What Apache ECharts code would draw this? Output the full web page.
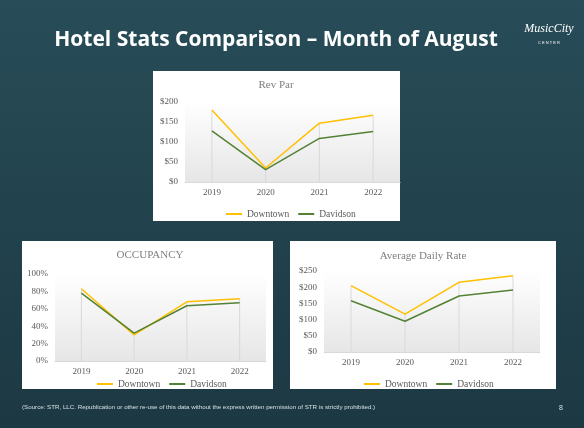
<!DOCTYPE html>
<html>
<head>
<meta charset="utf-8">
<script src="https://cdn.jsdelivr.net/npm/echarts@6/dist/echarts.min.js"></script>
<style>
  html, body { margin: 0; padding: 0; }
  #chart { width: 584px; height: 428px; }
</style>
</head>
<body>
<div id="chart"></div>
<script>
// hotel stats, month of August
const years = ['2019', '2020', '2021', '2022']
const seriesNames = ['Downtown', 'Davidson']

const revParDowntown = [180, 35, 147, 167]
const revParDavidson = [128, 31, 109, 126]

const occDowntown = [83, 30, 68, 71.5]
const occDavidson = [78, 32, 63.5, 67]

const adrDowntown = [205, 117, 215, 235]
const adrDavidson = [158, 95, 173, 191]

const COLOR_DT = '#FFC000'
const COLOR_DV = '#548235'
const SERIF = '"Liberation Serif", "DejaVu Serif", serif'
const LABEL = '#595959'

const chart = echarts.init(document.getElementById('chart'))

const plotBg = new echarts.graphic.LinearGradient(0, 0, 0, 1, [
  { offset: 0, color: '#ffffff' },
  { offset: 1, color: '#e6e6e6' }
])

const dropLines = (a, b) => a.map((v, i) => Math.max(v, b[i]))

const makeGrid = (left, top, width, height) => ({
  left, top, width, height, show: true, backgroundColor: plotBg, borderWidth: 0
})

const makeX = (gridIndex) => ({
  type: 'category', gridIndex, data: years, boundaryGap: true,
  axisLine: { lineStyle: { color: '#d9d9d9', width: 1 } },
  axisTick: { show: false },
  axisLabel: { color: LABEL, fontFamily: SERIF, fontSize: 9, margin: 6 }
})

const makeY = (gridIndex, max, interval, fmt) => ({
  type: 'value', gridIndex, min: 0, max, interval,
  axisLine: { show: false }, axisTick: { show: false }, splitLine: { show: false },
  axisLabel: { color: LABEL, fontFamily: SERIF, fontSize: 9, margin: 7, formatter: fmt }
})

const makeSeries = (idx, dt, dv) => [
  {
    name: 'drop', type: 'bar', xAxisIndex: idx, yAxisIndex: idx, barWidth: 1,
    data: dropLines(dt, dv), itemStyle: { color: '#d9d9d9' }, silent: true, z: 1
  },
  {
    name: 'Downtown', type: 'line', xAxisIndex: idx, yAxisIndex: idx, data: dt,
    symbol: 'none', lineStyle: { color: COLOR_DT, width: 1.5 }, itemStyle: { color: COLOR_DT }, z: 3
  },
  {
    name: 'Davidson', type: 'line', xAxisIndex: idx, yAxisIndex: idx, data: dv,
    symbol: 'none', lineStyle: { color: COLOR_DV, width: 1.5 }, itemStyle: { color: COLOR_DV }, z: 4
  }
]

const makeLegend = (left, top) => ({
  data: seriesNames, left, top, icon: 'rect', itemWidth: 16, itemHeight: 2, itemGap: 9,
  textStyle: { color: LABEL, fontFamily: SERIF, fontSize: 9.5 }, selectedMode: false
})

const panel = (x, y, w, h) => ({
  type: 'rect', shape: { x, y, width: w, height: h }, style: { fill: '#ffffff' }, z: -10, silent: true
})

const label = (x, y, text, font, fill, align) => ({
  type: 'text', x, y, silent: true, z: 10,
  style: { text, font, fill, textAlign: align || 'center', textVerticalAlign: 'middle' }
})

const option = {
  animation: false,
  backgroundColor: new echarts.graphic.LinearGradient(0, 0, 0, 1, [
    { offset: 0, color: '#284d58' },
    { offset: 1, color: '#1c3843' }
  ]),
  graphic: [
    panel(153, 71, 247, 150),
    panel(22, 241, 251, 148),
    panel(290, 241, 266, 148),
    {
      type: 'text', x: 276, y: 40, silent: true, z: 10,
      style: {
        text: 'Hotel Stats Comparison – Month of August',
        font: 'bold 21px "Open Sans", "Liberation Sans", sans-serif', fill: '#ffffff',
        textAlign: 'center', textVerticalAlign: 'middle',
        shadowColor: 'rgba(0,0,0,0.5)', shadowBlur: 2, shadowOffsetX: 1, shadowOffsetY: 1
      }
    },
    label(549, 29, 'MusicCity', 'italic 12px ' + SERIF, '#ffffff'),
    label(549, 43, 'C E N T E R', '4px "Liberation Sans", sans-serif', '#ffffff'),
    label(276, 85, 'Rev Par', '11px ' + SERIF, '#7f7f7f'),
    label(150, 255, 'OCCUPANCY', '11px ' + SERIF, '#7f7f7f'),
    label(423, 256, 'Average Daily Rate', '11px ' + SERIF, '#7f7f7f'),
    label(22, 407, '(Source: STR, LLC. Republication or other re-use of this data without the express written permission of STR is strictly prohibited.)',
      '6.2px "Liberation Sans", sans-serif', '#d5e0e3', 'left'),
    label(561, 408, '8', '7px "Liberation Sans", sans-serif', '#d5e0e3')
  ],
  legend: [
    makeLegend(221, 204),
    makeLegend(92, 374),
    makeLegend(359, 374)
  ],
  grid: [
    makeGrid(185, 102, 215, 80),
    makeGrid(55, 274, 211, 87),
    makeGrid(324, 271, 216, 81)
  ],
  xAxis: [makeX(0), makeX(1), makeX(2)],
  yAxis: [
    makeY(0, 200, 50, (v) => '$' + v),
    makeY(1, 100, 20, (v) => v + '%'),
    makeY(2, 250, 50, (v) => '$' + v)
  ],
  series: [
    ...makeSeries(0, revParDowntown, revParDavidson),
    ...makeSeries(1, occDowntown, occDavidson),
    ...makeSeries(2, adrDowntown, adrDavidson)
  ]
}

chart.setOption(option)
</script>
</body>
</html>
